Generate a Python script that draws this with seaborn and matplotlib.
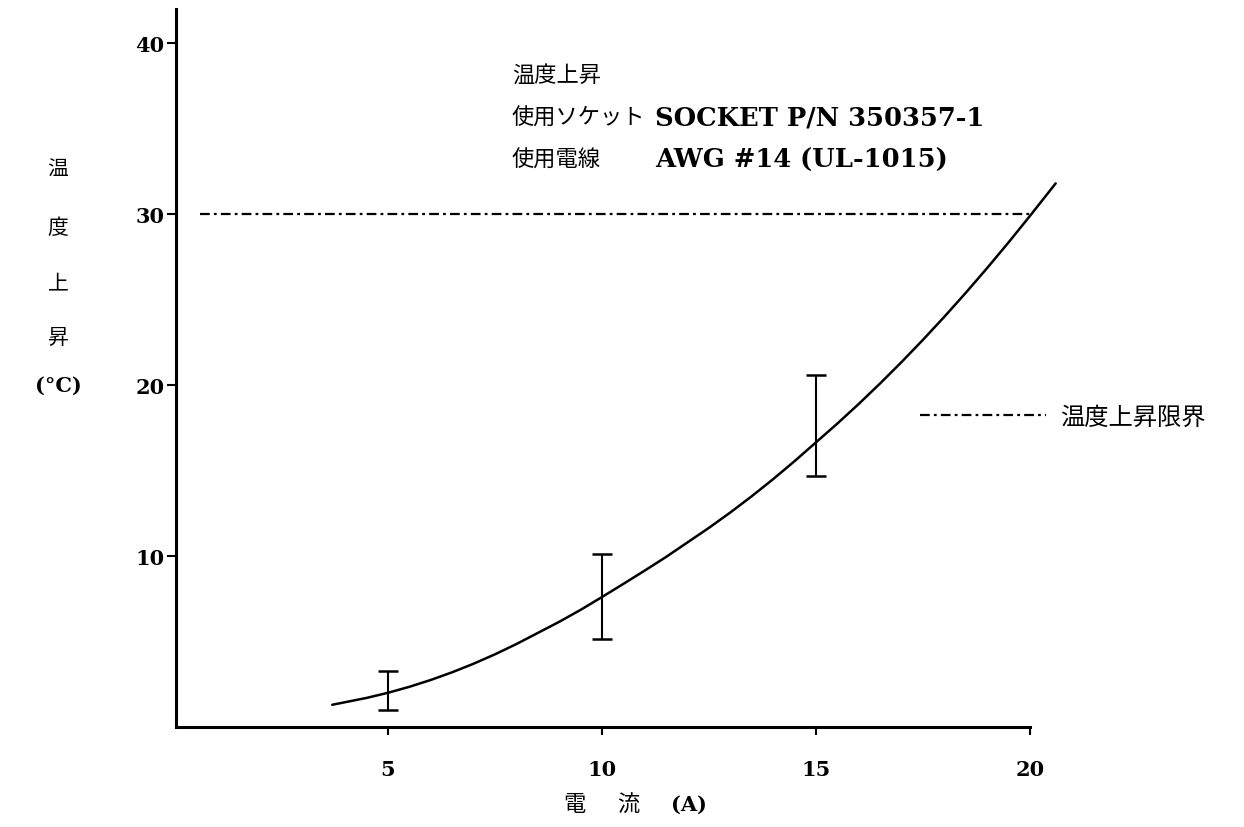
import matplotlib
matplotlib.use('Agg')
import matplotlib.pyplot as plt
import seaborn as sns
import pandas as pd

# curve (current A, temperature rise degC)
current = [3.7, 4, 4.5, 5, 5.5, 6, 6.5, 7, 7.5, 8, 8.5, 9, 9.5, 10, 10.5, 11,
           11.5, 12, 12.5, 13, 13.5, 14, 14.5, 15, 15.5, 16, 16.5, 17, 17.5,
           18, 18.5, 19, 19.5, 20, 20.6]
rise = [1.3, 1.45, 1.7, 2.0, 2.35, 2.75, 3.2, 3.7, 4.25, 4.85, 5.5, 6.15, 6.85,
        7.6, 8.37, 9.15, 9.95, 10.8, 11.65, 12.55, 13.5, 14.5, 15.55, 16.65,
        17.75, 18.9, 20.1, 21.35, 22.65, 24.0, 25.4, 26.85, 28.35, 29.9, 31.8]

# measured points with error bars
err_x = [5, 10, 15]
err_mid = [2.0, 7.6, 16.65]
err_low = [1.0, 5.15, 14.7]
err_high = [3.3, 10.1, 20.6]

limit_value = 30
limit_label = '温度上昇限界'

xticks = [5, 10, 15, 20]
yticks = [10, 20, 30, 40]

sns.set_style('white')
plt.rcParams['font.family'] = ['DejaVu Serif', 'Noto Sans CJK JP']
plt.rcParams['lines.scale_dashes'] = False
plt.rcParams['text.color'] = 'black'

W, H = 1244, 828
fig = plt.figure(figsize=(W / 100, H / 100), dpi=100)
ax = fig.add_axes([176 / W, 100 / H, (1030 - 176) / W, (728 - 10) / H])

df = pd.DataFrame({'current': current, 'rise': rise})
sns.lineplot(data=df, x='current', y='rise', color='black', linewidth=1.8,
             ax=ax, clip_on=False)

yerr = [[m - lo for m, lo in zip(err_mid, err_low)],
        [hi - m for m, hi in zip(err_mid, err_high)]]
ax.errorbar(err_x, err_mid, yerr=yerr, fmt='none', ecolor='black',
            elinewidth=1.5, capsize=7, capthick=1.8)

dashdot = (0, (7, 3, 2, 3))
ax.hlines(limit_value, 0.6, 20, colors='black', linewidth=1.6,
          linestyles=[dashdot], label=limit_label)

ax.set_xlim(0.05, 20)
ax.set_ylim(0, 42.0)
ax.set_xticks(xticks)
ax.set_yticks(yticks)
ax.set_xlabel('')
ax.set_ylabel('')

for s in ['top', 'right']:
    ax.spines[s].set_visible(False)
for s in ['left', 'bottom']:
    ax.spines[s].set_linewidth(2.2)
    ax.spines[s].set_color('black')

ax.tick_params(axis='y', left=True, direction='out', length=6.5, width=1.5,
               pad=2, labelsize=15, colors='black')
ax.tick_params(axis='x', bottom=True, direction='out', length=6, width=1.5,
               pad=17, labelsize=15, colors='black')
for lab in ax.get_xticklabels() + ax.get_yticklabels():
    lab.set_fontweight('bold')

leg = ax.legend(loc='center left', bbox_to_anchor=(920 / W, 1 - 418 / H),
                bbox_transform=fig.transFigure, frameon=False, fontsize=17.5,
                handlelength=5.2, handletextpad=0.55, borderpad=0,
                borderaxespad=0)
for t in leg.get_texts():
    t.set_family(['Noto Sans CJK JP'])
    t.set_color('black')

# annotation block
jp = ['Noto Sans CJK JP']
fig.text(512 / W, 1 - 75 / H, '温度上昇', fontsize=16, family=jp, va='center')
fig.text(512 / W, 1 - 118 / H, '使用ソケット', fontsize=16, family=jp, va='center')
fig.text(655 / W, 1 - 118 / H, 'SOCKET P/N 350357-1', fontsize=18.5,
         fontweight='bold', va='center')
fig.text(512 / W, 1 - 160 / H, '使用電線', fontsize=16, family=jp, va='center')
fig.text(655 / W, 1 - 160 / H, 'AWG #14 (UL-1015)', fontsize=18.5,
         fontweight='bold', va='center')

# vertical y label
for ch, yp in zip(['温', '度', '上', '昇'], [170, 228, 283, 338]):
    fig.text(58 / W, 1 - yp / H, ch, fontsize=15, family=jp,
             ha='center', va='center')
fig.text(58 / W, 1 - 386 / H, '(°C)', fontsize=15, fontweight='bold',
         ha='center', va='center')

# x label
fig.text(574 / W, 1 - 805 / H, '電', fontsize=16, family=jp,
         ha='center', va='center')
fig.text(628 / W, 1 - 805 / H, '流', fontsize=16, family=jp,
         ha='center', va='center')
fig.text(689 / W, 1 - 805 / H, '(A)', fontsize=15, fontweight='bold',
         ha='center', va='center')

fig.savefig('out.png', dpi=100)
